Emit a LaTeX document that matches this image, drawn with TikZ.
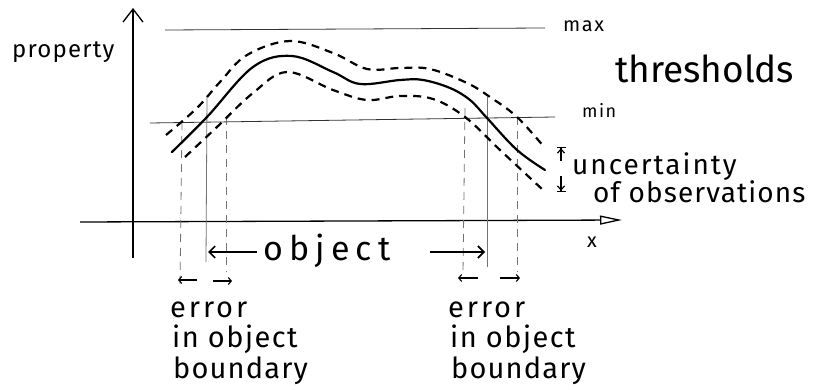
\documentclass[tikz,border=0pt]{standalone}
\usepackage{fontspec}
\setmainfont{Fira Sans}
\usetikzlibrary{arrows.meta}
\begin{document}
\begin{tikzpicture}[x=1pt,y=-1pt,
  axis/.style={line width=1.3pt, black},
  thin/.style={line width=0.8pt, black!80},
  guide/.style={line width=0.8pt, black!55},
  guided/.style={guide, dash pattern=on 8pt off 6pt},
  curve/.style={line width=2.2pt, black, line cap=round},
  dcurve/.style={curve, line cap=butt, dash pattern=on 8pt off 6pt},
  hand/.style={inner sep=0pt, anchor=base west},
  objarr/.style={line width=1.6pt, -{Straight Barb[length=6pt,width=12pt]}},
  errarr/.style={line width=1.1pt, -{Straight Barb[length=3pt,width=7pt]}},
  uncarr/.style={line width=1.2pt, -{Straight Barb[length=4pt,width=7pt] Bar[width=9pt]}}
]
\useasboundingbox (0,0) rectangle (813,390);
\fill[white] (0,0) rectangle (813,390);

% axes
\coordinate (y0) at (133,258); \coordinate (y1) at (133,8);
\coordinate (x0) at (80,222);  \coordinate (x1) at (622,220);
\draw[axis, -{Straight Barb[length=13pt,width=20pt]}] (y0) -- (y1);
\draw[axis, -{Triangle[open,length=22pt,width=9pt]}] (x0) -- (x1);

% thresholds
\coordinate (mx0) at (165,30); \coordinate (mx1) at (545,28);
\coordinate (mn0) at (150,123); \coordinate (mn1) at (555,117);
\draw[thin] (mx0) -- (mx1);
\draw[thin] (mn0) -- (mn1);

% boundary verticals
\coordinate (la) at (182,122); \coordinate (lab) at (180,286);
\coordinate (lb) at (207,96);  \coordinate (lbb) at (206,262);
\coordinate (lc) at (226,117); \coordinate (lcb) at (226,272);
\coordinate (ra) at (465,108); \coordinate (rab) at (463,273);
\coordinate (rb) at (487,97);  \coordinate (rbb) at (487,267);
\coordinate (rc) at (517,117); \coordinate (rcb) at (517,272);
\draw[guided] (la) -- (lab);
\draw[guide] (lb) -- (lbb);
\draw[guided] (lc) -- (lcb);
\draw[guided] (ra) -- (rab);
\draw[guide] (rb) -- (rbb);
\draw[guided] (rc) -- (rcb);

% curves
\draw[curve] plot[smooth, tension=0.6] coordinates {(172,152) (207,117) (253,67) (292,56) (333,72) (360,84) (400,80) (423,80) (450,88) (470,100) (487,118) (517,150) (545,170)};
\draw[dcurve] plot[smooth, tension=0.6] coordinates {(166,135) (197,108) (220,82) (247,55) (290,41) (333,53) (367,69) (400,68) (430,69) (467,83) (490,97) (517,117) (545,148)};
\draw[dcurve] plot[smooth, tension=0.6] coordinates {(185,157) (217,127) (253,93) (287,72) (333,90) (367,100) (400,96) (433,99) (465,117) (500,150) (543,190)};

% uncertainty arrows
\coordinate (ua0) at (561,161); \coordinate (ua1) at (561,147);
\coordinate (ub0) at (561,176); \coordinate (ub1) at (561,192);
\draw[uncarr] (ua0) -- (ua1);
\draw[uncarr] (ub0) -- (ub1);

% object arrows
\coordinate (oa0) at (257,252); \coordinate (oa1) at (208,252);
\coordinate (ob0) at (430,252); \coordinate (ob1) at (485,252);
\draw[objarr] (oa0) -- (oa1);
\draw[objarr] (ob0) -- (ob1);

% error arrows
\coordinate (e1a) at (197,280); \coordinate (e1b) at (178,280);
\coordinate (e2a) at (213,281); \coordinate (e2b) at (232,281);
\coordinate (e3a) at (478,278); \coordinate (e3b) at (458,278);
\coordinate (e4a) at (500,278); \coordinate (e4b) at (520,278);
\draw[errarr] (e1a) -- (e1b);
\draw[errarr] (e2a) -- (e2b);
\draw[errarr] (e3a) -- (e3b);
\draw[errarr] (e4a) -- (e4b);

% texts
\node[hand, font=\fontsize{24}{24}\selectfont\addfontfeatures{LetterSpace=5}] (prop) at (12,58) {property};
\node[hand, font=\fontsize{20}{20}\selectfont\addfontfeatures{LetterSpace=8}] (maxl) at (563,32) {max};
\node[hand, font=\fontsize{18}{18}\selectfont\addfontfeatures{LetterSpace=8}] (minl) at (582,118) {min};
\node[hand, font=\fontsize{37}{37}\selectfont] (thr) at (615,83) {thresholds};
\node[hand, font=\fontsize{28}{28}\selectfont\addfontfeatures{LetterSpace=7}] (unc) at (572,175) {uncertainty};
\node[hand, font=\fontsize{28}{28}\selectfont\addfontfeatures{LetterSpace=4}] (obs) at (593,202) {of observations};
\node[hand, font=\fontsize{20}{20}\selectfont] (xl) at (587,247) {x};
\node[hand, font=\fontsize{34}{34}\selectfont\addfontfeatures{LetterSpace=18}] (obj) at (263,260) {object};
\node[hand, font=\fontsize{29}{29}\selectfont\addfontfeatures{LetterSpace=10}] (er1) at (170,317) {error};
\node[hand, font=\fontsize{29}{29}\selectfont\addfontfeatures{LetterSpace=5}] (er2) at (172,347) {in object};
\node[hand, font=\fontsize{29}{29}\selectfont\addfontfeatures{LetterSpace=4}] (er3) at (173,378) {boundary};
\node[hand, font=\fontsize{29}{29}\selectfont\addfontfeatures{LetterSpace=10}] (er4) at (448,317) {error};
\node[hand, font=\fontsize{29}{29}\selectfont\addfontfeatures{LetterSpace=5}] (er5) at (450,347) {in object};
\node[hand, font=\fontsize{29}{29}\selectfont\addfontfeatures{LetterSpace=4}] (er6) at (451,378) {boundary};
\end{tikzpicture}
\end{document}
